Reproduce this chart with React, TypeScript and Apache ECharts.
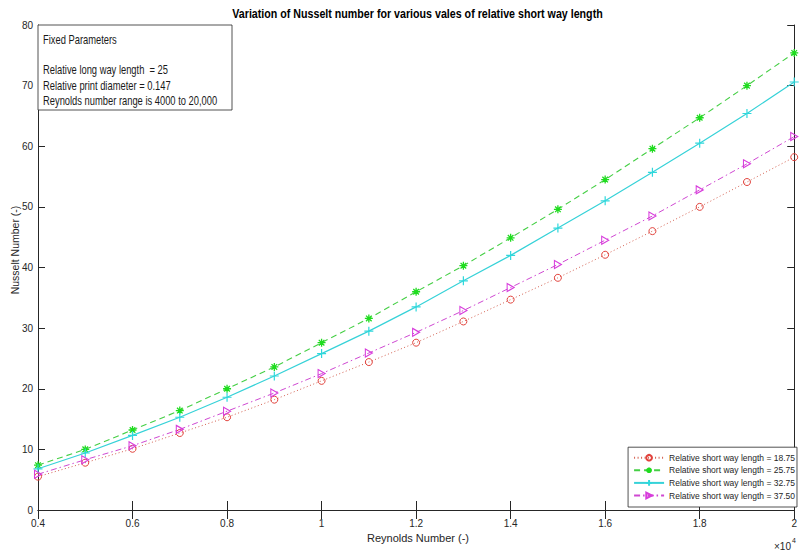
import React, { useEffect, useRef } from "react";
import * as echarts from "echarts";

const reynolds = [4000, 5000, 6000, 7000, 8000, 9000, 10000, 11000, 12000, 13000, 14000, 15000, 16000, 17000, 18000, 19000, 20000];
const nu1875 = [5.5, 7.8, 10.1, 12.7, 15.3, 18.2, 21.3, 24.4, 27.6, 31.1, 34.7, 38.3, 42.1, 46.0, 50.0, 54.1, 58.2];
const nu2575 = [7.4, 10.0, 13.2, 16.4, 20.0, 23.6, 27.6, 31.6, 36.0, 40.3, 44.9, 49.6, 54.5, 59.6, 64.7, 70.0, 75.4];
const nu3275 = [6.8, 9.4, 12.3, 15.3, 18.6, 22.1, 25.8, 29.5, 33.5, 37.8, 42.0, 46.5, 51.0, 55.7, 60.5, 65.4, 70.6];
const nu3750 = [5.9, 8.3, 10.6, 13.3, 16.3, 19.3, 22.5, 25.9, 29.3, 32.9, 36.7, 40.5, 44.5, 48.5, 52.8, 57.1, 61.6];
const seriesNames = [
  "Relative short way length = 18.75",
  "Relative short way length = 25.75",
  "Relative short way length = 32.75",
  "Relative short way length = 37.50",
];
const titleText = "Variation of Nusselt number for various vales of relative short way length";
const boxLines = [
  "Fixed Parameters",
  "Relative long way length  = 25",
  "Relative print diameter = 0.147",
  "Reynolds number range is 4000 to 20,000",
];

const FONT = "'Liberation Sans', Arial, Helvetica, sans-serif";
const AX = "#262626";

export default function App() {
  const ref = useRef<HTMLDivElement>(null);
  useEffect(() => {
    document.body.style.margin = "0";
    const chart = echarts.init(ref.current!, null, { renderer: "svg" });
    const pair = (ys: number[]) => reynolds.map((x, i) => [x, ys[i]]);
    const axisCommon = {
      axisLine: { show: true, lineStyle: { color: AX, width: 1 } },
      splitLine: { show: false },
    };
    chart.setOption({
      animation: false,
      backgroundColor: "#ffffff",
      grid: { left: 38, right: 3, top: 25, bottom: 42, containLabel: false },
      xAxis: [
        {
          type: "value",
          min: 4000,
          max: 20000,
          interval: 2000,
          position: "bottom",
          ...axisCommon,
          axisTick: { show: true, inside: true, length: 9, lineStyle: { color: AX } },
          axisLabel: {
            color: AX,
            fontSize: 10,
            fontFamily: FONT,
            margin: 8,
            formatter: (v: number) => String(parseFloat((v / 10000).toFixed(1))),
          },
        },
        {
          type: "value",
          min: 4000,
          max: 20000,
          interval: 2000,
          position: "top",
          ...axisCommon,
          axisTick: { show: true, inside: true, length: 9, lineStyle: { color: AX } },
          axisLabel: { show: false },
        },
      ],
      yAxis: [
        {
          type: "value",
          min: 0,
          max: 80,
          interval: 10,
          position: "left",
          ...axisCommon,
          axisTick: { show: true, inside: true, length: 7, lineStyle: { color: AX } },
          axisLabel: { color: AX, fontSize: 10, fontFamily: FONT, margin: 5 },
        },
        {
          type: "value",
          min: 0,
          max: 80,
          interval: 10,
          position: "right",
          ...axisCommon,
          axisTick: { show: true, inside: true, length: 7, lineStyle: { color: AX } },
          axisLabel: { show: false },
        },
      ],
      legend: {
        orient: "vertical",
        right: 3,
        bottom: 45,
        itemWidth: 30,
        itemHeight: 7,
        itemGap: 3.6,
        padding: [6, 2, 7, 5],
        backgroundColor: "#ffffff",
        borderColor: AX,
        borderWidth: 0.8,
        borderRadius: 0,
        textStyle: { color: AX, fontSize: 8.5, fontFamily: FONT, lineHeight: 9 },
        data: seriesNames,
      },
      series: [
        {
          type: "line",
          name: seriesNames[0],
          data: pair(nu1875),
          symbol: "circle",
          symbolSize: 7,
          itemStyle: { color: "rgba(0,0,0,0)", borderColor: "#e2423c", borderWidth: 1 },
          lineStyle: { color: "#d46050", width: 1, type: [1, 2.5] },
          z: 2,
        },
        {
          type: "line",
          name: seriesNames[1],
          data: pair(nu2575),
          symbol: "path://M5,0L5,10M0,5L10,5M1.5,1.5L8.5,8.5M8.5,1.5L1.5,8.5",
          symbolSize: 8,
          itemStyle: { color: "rgba(0,0,0,0)", borderColor: "#1fdc1f", borderWidth: 1.3 },
          lineStyle: { color: "#45cf45", width: 1.1, type: [6, 4] },
          z: 3,
        },
        {
          type: "line",
          name: seriesNames[2],
          data: pair(nu3275),
          symbol: "path://M5,0L5,10M0,5L10,5",
          symbolSize: 9,
          itemStyle: { color: "rgba(0,0,0,0)", borderColor: "#2ed8dc", borderWidth: 1.2 },
          lineStyle: { color: "#36d2d8", width: 1.2, type: "solid" },
          z: 4,
        },
        {
          type: "line",
          name: seriesNames[3],
          data: pair(nu3750),
          symbol: "path://M0,0L10,5L0,10Z",
          symbolSize: [7, 8],
          itemStyle: { color: "rgba(0,0,0,0)", borderColor: "#d83cdc", borderWidth: 1.1 },
          lineStyle: { color: "#cf48d2", width: 1, type: [6, 3, 1.5, 3] },
          z: 5,
        },
      ],
      graphic: [
        {
          type: "text",
          x: 417.5,
          y: 14,
          scaleX: 0.89,
          style: {
            text: titleText,
            fontSize: 12,
            fontWeight: "bold",
            fontFamily: FONT,
            fill: "#000000",
            textAlign: "center",
            textVerticalAlign: "middle",
          },
        },
        {
          type: "rect",
          shape: { x: 38, y: 25, width: 194, height: 85 },
          style: { fill: "#ffffff", stroke: AX, lineWidth: 0.8 },
          z: 10,
        },
        ...boxLines.map((t, i) => ({
          type: "text",
          x: 43,
          y: [40, 70, 85.5, 101][i],
          scaleX: 0.78,
          z: 11,
          style: {
            text: t,
            fontSize: 12,
            fontFamily: FONT,
            fill: "#1a1a1a",
            textAlign: "left",
            textVerticalAlign: "middle",
          },
        })),
        {
          type: "text",
          x: 15,
          y: 250,
          rotation: Math.PI / 2,
          style: {
            text: "Nusselt Number (-)",
            fontSize: 10.5,
            fontFamily: FONT,
            fill: AX,
            textAlign: "center",
            textVerticalAlign: "middle",
          },
        },
        {
          type: "text",
          x: 418,
          y: 538,
          style: {
            text: "Reynolds Number (-)",
            fontSize: 11,
            fontFamily: FONT,
            fill: AX,
            textAlign: "center",
            textVerticalAlign: "middle",
          },
        },
        {
          type: "text",
          x: 791,
          y: 546,
          style: {
            text: "×10",
            fontSize: 10,
            fontFamily: FONT,
            fill: AX,
            textAlign: "right",
            textVerticalAlign: "middle",
          },
        },
        {
          type: "text",
          x: 792,
          y: 540,
          style: {
            text: "4",
            fontSize: 7,
            fontFamily: FONT,
            fill: AX,
            textAlign: "left",
            textVerticalAlign: "middle",
          },
        },
      ],
    });
    return () => chart.dispose();
  }, []);
  return <div ref={ref} style={{ width: 800, height: 552 }} />;
}
